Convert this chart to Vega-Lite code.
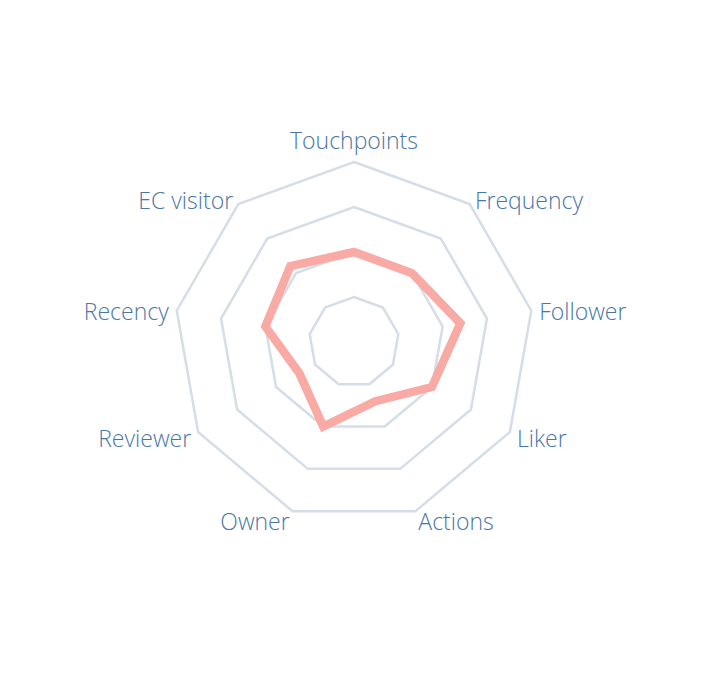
{
  "$schema": "https://vega.github.io/schema/vega-lite/v6.json",
  "width": 708,
  "height": 686,
  "padding": 0,
  "autosize": {"type": "none"},
  "background": "white",
  "config": {"view": {"stroke": null}},
  "datasets": {
    "axes": [
      {"key": "Touchpoints", "i": 0, "value": 0.5},
      {"key": "Frequency", "i": 1, "value": 0.5},
      {"key": "Follower", "i": 2, "value": 0.6},
      {"key": "Liker", "i": 3, "value": 0.5},
      {"key": "Actions", "i": 4, "value": 0.35},
      {"key": "Owner", "i": 5, "value": 0.5},
      {"key": "Reviewer", "i": 6, "value": 0.35},
      {"key": "Recency", "i": 7, "value": 0.5},
      {"key": "EC visitor", "i": 8, "value": 0.55}
    ],
    "grid": [
      {"level": 0.25, "i": [0, 1, 2, 3, 4, 5, 6, 7, 8]},
      {"level": 0.5, "i": [0, 1, 2, 3, 4, 5, 6, 7, 8]},
      {"level": 0.75, "i": [0, 1, 2, 3, 4, 5, 6, 7, 8]},
      {"level": 1, "i": [0, 1, 2, 3, 4, 5, 6, 7, 8]}
    ]
  },
  "encoding": {
    "x": {"field": "x", "type": "quantitative", "scale": {"domain": [-1.96667, 1.96667], "nice": false, "zero": false}, "axis": null},
    "y": {"field": "y", "type": "quantitative", "scale": {"domain": [-1.91111, 1.9], "nice": false, "zero": false}, "axis": null}
  },
  "layer": [
    {
      "data": {"name": "grid"},
      "transform": [
        {"flatten": ["i"]},
        {"calculate": "datum.i * 2 * PI / 9", "as": "a"},
        {"calculate": "datum.level * sin(datum.a)", "as": "x"},
        {"calculate": "datum.level * cos(datum.a)", "as": "y"}
      ],
      "mark": {"type": "line", "interpolate": "linear-closed", "stroke": "#d5dee8", "strokeWidth": 2.5},
      "encoding": {
        "detail": {"field": "level", "type": "nominal"},
        "order": {"field": "i", "type": "quantitative"}
      }
    },
    {
      "data": {"name": "axes"},
      "transform": [
        {"calculate": "datum.i * 2 * PI / 9", "as": "a"},
        {"calculate": "datum.value * sin(datum.a)", "as": "x"},
        {"calculate": "datum.value * cos(datum.a)", "as": "y"}
      ],
      "mark": {"type": "line", "interpolate": "linear-closed", "stroke": "#f9aaa5", "strokeWidth": 8.5, "strokeJoin": "miter"},
      "encoding": {
        "order": {"field": "i", "type": "quantitative"}
      }
    },
    {
      "data": {"name": "axes"},
      "transform": [
        {"filter": "datum.i == 0"},
        {"calculate": "datum.i * 2 * PI / 9", "as": "a"},
        {"calculate": "1.045 * sin(datum.a)", "as": "x"},
        {"calculate": "1.045 * cos(datum.a)", "as": "y"}
      ],
      "mark": {"type": "text", "align": "center", "baseline": "bottom", "font": "Open Sans", "fontWeight": 300, "fontSize": 23, "color": "#4a76a6"},
      "encoding": {"text": {"field": "key", "type": "nominal"}}
    },
    {
      "data": {"name": "axes"},
      "transform": [
        {"filter": "datum.i > 0 && datum.i < 5"},
        {"calculate": "datum.i * 2 * PI / 9", "as": "a"},
        {"calculate": "1.045 * sin(datum.a)", "as": "x"},
        {"calculate": "1.045 * cos(datum.a)", "as": "y"}
      ],
      "mark": {"type": "text", "align": "left", "baseline": "middle", "dy": 4, "font": "Open Sans", "fontWeight": 300, "fontSize": 23, "color": "#4a76a6"},
      "encoding": {"text": {"field": "key", "type": "nominal"}}
    },
    {
      "data": {"name": "axes"},
      "transform": [
        {"filter": "datum.i >= 5"},
        {"calculate": "datum.i * 2 * PI / 9", "as": "a"},
        {"calculate": "1.045 * sin(datum.a)", "as": "x"},
        {"calculate": "1.045 * cos(datum.a)", "as": "y"}
      ],
      "mark": {"type": "text", "align": "right", "baseline": "middle", "dy": 4, "font": "Open Sans", "fontWeight": 300, "fontSize": 23, "color": "#4a76a6"},
      "encoding": {"text": {"field": "key", "type": "nominal"}}
    }
  ]
}
